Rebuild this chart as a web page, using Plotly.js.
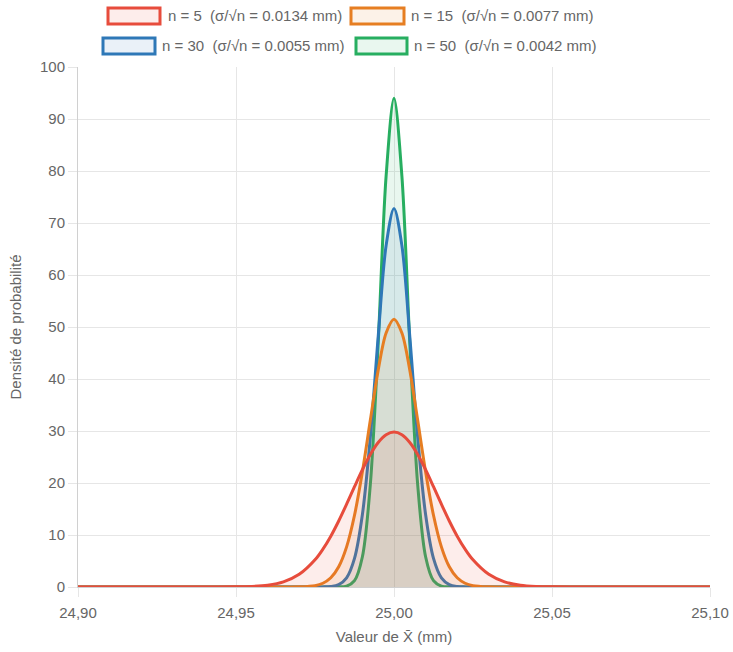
<!DOCTYPE html>
<html>
<head>
<meta charset="utf-8">
<script src="https://cdn.plot.ly/plotly-3.0.1.min.js"></script>
<style>html,body{margin:0;padding:0;background:#fff}#chart{width:733px;height:652px}</style>
</head>
<body>
<div id="chart"></div>
<script>
// x positions (mm)
var xValues = [24.90, 24.92, 24.93, 24.94, 24.95, 24.955, 24.96, 24.965, 24.97, 24.975, 24.9775, 24.98, 24.9825, 24.985, 24.9875, 24.99, 24.9925, 24.995, 24.9975,
  25.00,
  25.0025, 25.005, 25.0075, 25.01, 25.0125, 25.015, 25.0175, 25.02, 25.0225, 25.025, 25.03, 25.035, 25.04, 25.045, 25.05, 25.06, 25.07, 25.08, 25.10];

var densN5 = [0, 0, 0, 0, 0.03, 0.11, 0.35, 0.98, 2.43, 5.23, 7.28, 9.78, 12.70, 15.93, 19.29, 22.56, 25.48, 27.79, 29.28,
  29.8,
  29.28, 27.79, 25.48, 22.56, 19.29, 15.93, 12.70, 9.78, 7.28, 5.23, 2.43, 0.98, 0.35, 0.11, 0.03, 0, 0, 0, 0];

var densN15 = [0, 0, 0, 0, 0, 0, 0, 0, 0.03, 0.26, 0.72, 1.77, 3.89, 7.72, 13.79, 22.16, 32.05, 41.71, 48.86,
  51.5,
  48.86, 41.71, 32.05, 22.16, 13.79, 7.72, 3.89, 1.77, 0.72, 0.26, 0.03, 0, 0, 0, 0, 0, 0, 0, 0];

var densN30 = [0, 0, 0, 0, 0, 0, 0, 0, 0, 0, 0.02, 0.10, 0.46, 1.77, 5.50, 13.94, 28.73, 48.16, 65.66,
  72.8,
  65.66, 48.16, 28.73, 13.94, 5.50, 1.77, 0.46, 0.10, 0.02, 0, 0, 0, 0, 0, 0, 0, 0, 0, 0];

var densN50 = [0, 0, 0, 0, 0, 0, 0, 0, 0, 0, 0, 0, 0.02, 0.18, 1.22, 5.82, 19.66, 46.9, 79.0,
  94.0,
  79.0, 46.9, 19.66, 5.82, 1.22, 0.18, 0.02, 0, 0, 0, 0, 0, 0, 0, 0, 0, 0, 0, 0];

var seriesLabels = [
  "n = 5  (σ/√n = 0.0134 mm)",
  "n = 15  (σ/√n = 0.0077 mm)",
  "n = 30  (σ/√n = 0.0055 mm)",
  "n = 50  (σ/√n = 0.0042 mm)"
];

var xTickVals = [24.90, 24.95, 25.00, 25.05, 25.10];
var yTickVals = [0, 10, 20, 30, 40, 50, 60, 70, 80, 90, 100];

var lineColors = ["#e74c3c", "#e67e22", "#2e78b7", "#27ae60"];
var fillColors = ["rgba(231,76,60,0.10)", "rgba(230,126,34,0.10)", "rgba(46,120,183,0.10)", "rgba(39,174,96,0.10)"];

var seriesData = [densN5, densN15, densN30, densN50];

var traces = [];
for (var i = 3; i >= 0; i--) {
  traces.push({
    type: "scatter",
    mode: "lines",
    x: xValues,
    y: seriesData[i],
    name: seriesLabels[i],
    line: {color: lineColors[i], width: 3, shape: "spline", smoothing: 0.9},
    fill: "tozeroy",
    fillcolor: fillColors[i],
    hoverinfo: "skip"
  });
}

// custom legend (Chart.js style boxes)
var L = 78, W = 632, T = 67, H = 520;
function px(x) { return (x - L) / W; }
function py(y) { return (T + H - y) / H; }
var legendPos = [
  {bx0: 108, bx1: 160, by0: 8, by1: 24, tx: 166, ty: 16},
  {bx0: 351, bx1: 404, by0: 8, by1: 24, tx: 409, ty: 16},
  {bx0: 103, bx1: 155, by0: 38, by1: 54, tx: 160, ty: 46},
  {bx0: 356, bx1: 407, by0: 38, by1: 54, tx: 412, ty: 46}
];
var FONT = "Liberation Sans, Arial, sans-serif";
var shapes = [], annotations = [];
for (var k = 0; k < 4; k++) {
  var p = legendPos[k];
  shapes.push({type: "rect", xref: "paper", yref: "paper",
    x0: px(p.bx0), x1: px(p.bx1), y0: py(p.by1), y1: py(p.by0),
    line: {color: lineColors[k], width: 3}, fillcolor: fillColors[k]});
  annotations.push({xref: "paper", yref: "paper", x: px(p.tx), y: py(p.ty),
    xanchor: "left", yanchor: "middle", showarrow: false,
    text: seriesLabels[k].replace(/  /g, " \u00a0"),
    font: {family: FONT, size: 15, color: "#666"}});
}

var layout = {
  width: 733, height: 652,
  margin: {l: L, r: 733 - L - W, t: T, b: 652 - T - H},
  paper_bgcolor: "#fff", plot_bgcolor: "#fff",
  separators: ", ",
  showlegend: false,
  font: {family: FONT, size: 15, color: "#666"},
  xaxis: {
    range: [24.90, 25.10], tickvals: xTickVals, tickformat: ".2f",
    showgrid: true, gridcolor: "#e6e6e6", gridwidth: 1,
    zeroline: false, showline: true, linecolor: "#d0d0d0", linewidth: 1,
    ticks: "outside", ticklen: 9, tickcolor: "#e6e6e6",
    ticklabelstandoff: 3,
    tickfont: {size: 15, color: "#666"},
    title: {text: "Valeur de X\u0304 (mm)", font: {size: 15, color: "#666"}, standoff: 11},
    fixedrange: true
  },
  yaxis: {
    range: [0, 100], tickvals: yTickVals,
    showgrid: true, gridcolor: "#e6e6e6", gridwidth: 1,
    zeroline: false, showline: true, linecolor: "#d0d0d0", linewidth: 1,
    ticks: "outside", ticklen: 9, tickcolor: "#e6e6e6",
    tickfont: {size: 15, color: "#666"},
    title: {text: "Densité de probabilité", font: {size: 15, color: "#666"}, standoff: 14},
    fixedrange: true
  },
  shapes: shapes,
  annotations: annotations
};

Plotly.newPlot("chart", traces, layout, {staticPlot: true, displayModeBar: false});
</script>
</body>
</html>
